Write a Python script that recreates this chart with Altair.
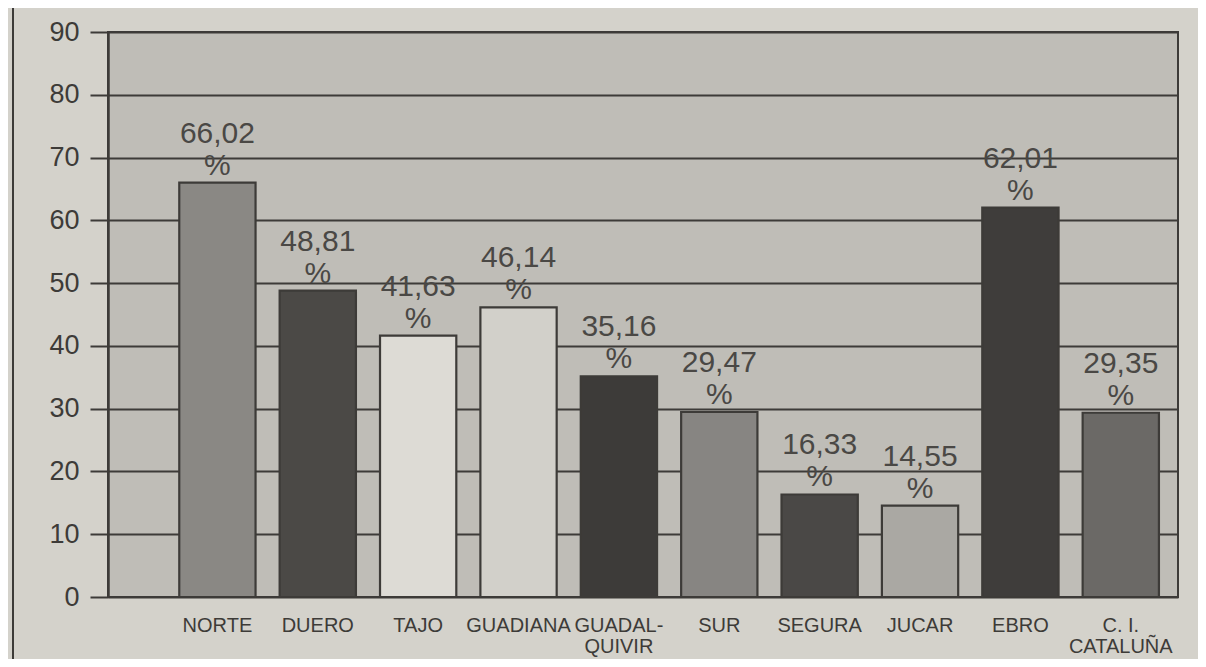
import altair as alt
import pandas as pd

categories = ["NORTE", "DUERO", "TAJO", "GUADIANA", "GUADAL-\nQUIVIR", "SUR",
              "SEGURA", "JUCAR", "EBRO", "C. I.\nCATALUÑA"]
values = [66.02, 48.81, 41.63, 46.14, 35.16, 29.47, 16.33, 14.55, 62.01, 29.35]
labels = ["66,02\n%", "48,81\n%", "41,63\n%", "46,14\n%", "35,16\n%", "29,47\n%",
          "16,33\n%", "14,55\n%", "62,01\n%", "29,35\n%"]
bar_colors = ["#8a8884", "#4b4946", "#dddbd5", "#d2d0ca", "#3d3b39", "#878582",
              "#4a4846", "#aaa8a3", "#3f3d3b", "#6b6966"]
y_ticks = [0, 10, 20, 30, 40, 50, 60, 70, 80, 90]

df = pd.DataFrame({
    "idx": list(range(len(categories))),
    "cat": categories,
    "value": values,
    "label": labels,
    "color": bar_colors,
})
df["x0"] = df["idx"] - 0.38
df["x1"] = df["idx"] + 0.38

ink = "#3d3b38"
font = "Liberation Sans"

xscale = alt.Scale(domain=[-1.09, 9.57], nice=False, zero=False)
yscale = alt.Scale(domain=[0, 90], nice=False)

base = alt.Chart(df)

bars = base.mark_rect(stroke=ink, strokeWidth=2.2).encode(
    x=alt.X("x0:Q", scale=xscale, axis=None),
    x2="x1:Q",
    y=alt.Y("value:Q", scale=yscale,
            axis=alt.Axis(values=y_ticks, grid=True, gridColor=ink, gridWidth=2,
                          gridOpacity=1, domainColor=ink, domainWidth=2.5,
                          tickColor=ink, tickWidth=2, tickSize=18,
                          labelFont=font, labelFontSize=27, labelColor=ink,
                          labelPadding=11, title=None)),
    y2=alt.datum(0),
    fill=alt.Fill("color:N", scale=None),
)

value_text = base.mark_text(lineBreak="\n", baseline="bottom", dy=-34, font=font,
                            fontSize=30, color="#4a4845", lineHeight=32).encode(
    x=alt.X("idx:Q", scale=xscale),
    y=alt.Y("value:Q", scale=yscale),
    text="label:N",
)

cat_text = base.mark_text(lineBreak="\n", baseline="top", font=font,
                          fontSize=20, color=ink, lineHeight=21).encode(
    x=alt.X("idx:Q", scale=xscale),
    y=alt.value(584),
    text="cat:N",
)

frame = alt.Chart(df).mark_rule(color=ink, strokeWidth=2).encode(
    x=alt.value(-95), x2=alt.value(1092), y=alt.value(631)
)
frame_l = alt.Chart(df).mark_rule(color=ink, strokeWidth=2).encode(
    x=alt.value(-95), y=alt.value(-40), y2=alt.value(631)
)
frame_r = alt.Chart(df).mark_rule(color=ink, strokeWidth=2).encode(
    x=alt.value(1092), y=alt.value(-40), y2=alt.value(631)
)

chart = alt.layer(bars, value_text, cat_text, frame, frame_l, frame_r).properties(
    width=1070, height=565,
    autosize=alt.AutoSizeParams(type="none"),
    padding={"left": 100, "top": 24, "right": 20, "bottom": 62},
    background="#d4d2cb",
).configure_view(fill="#bfbdb7", stroke=ink, strokeWidth=2)

chart.save("out.html", embed_options={"renderer": "svg", "actions": False})
